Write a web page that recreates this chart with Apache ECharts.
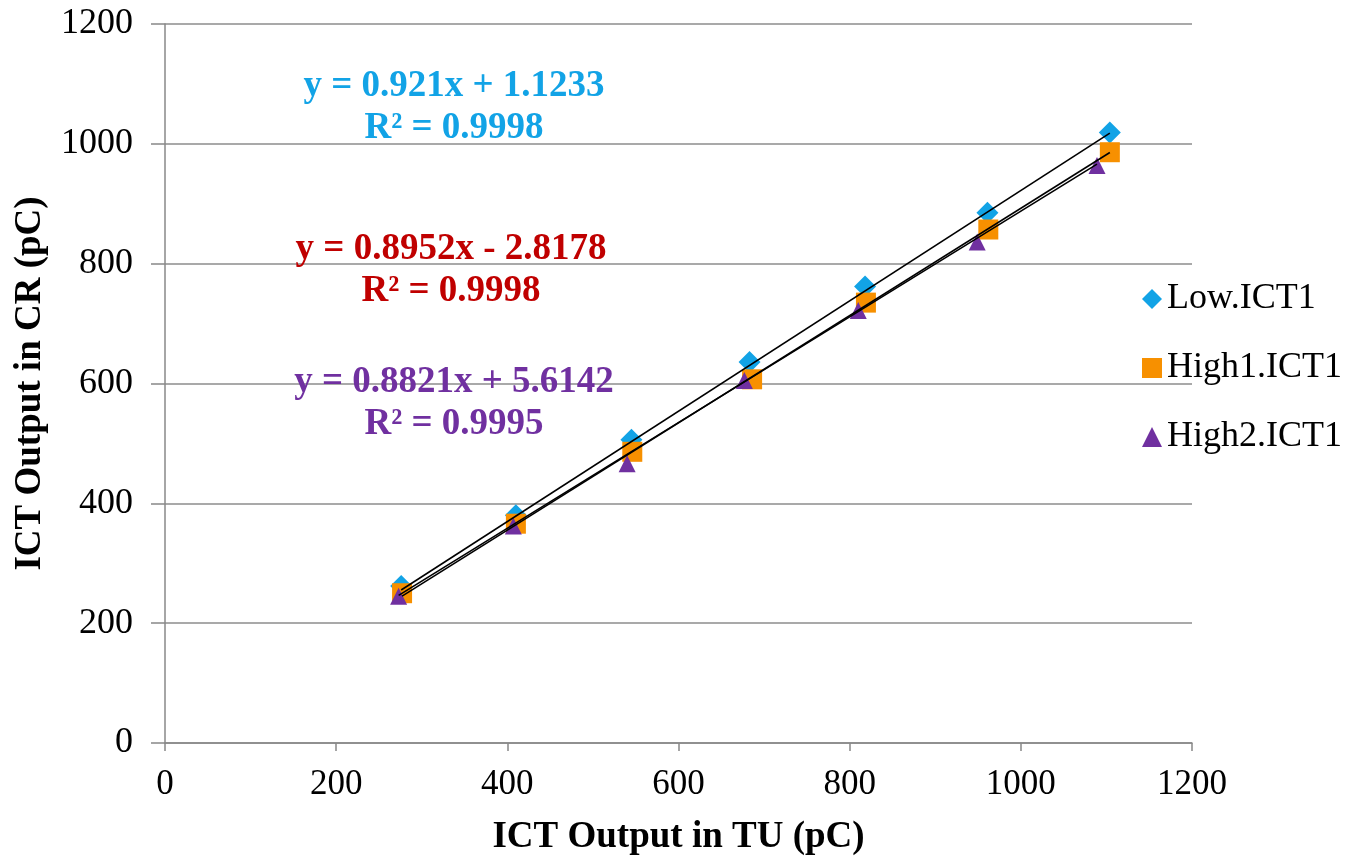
<!DOCTYPE html>
<html>
<head>
<meta charset="utf-8">
<script src="https://cdn.jsdelivr.net/npm/echarts@6/dist/echarts.min.js"></script>
<style>html,body{margin:0;padding:0;background:#fff}#c{width:1350px;height:858px}</style>
</head>
<body>
<div id="c"></div>
<script>
const seriesNames = ['Low.ICT1', 'High1.ICT1', 'High2.ICT1'];
const lowX = [276, 410, 545, 683, 818, 961, 1104];
const lowY = [262, 380, 506, 636, 762, 885, 1019];
const high1X = [277, 410, 546, 686, 819, 962, 1104];
const high1Y = [250, 366, 486, 607, 735, 857, 986];
const high2X = [273, 407, 540, 677, 810, 949, 1089];
const high2Y = [245, 362, 466, 605, 722, 836, 964];
const slopes = [0.921, 0.8952, 0.8821];
const intercepts = [1.1233, -2.8178, 5.6142];
const eqLabels = ['y = 0.921x + 1.1233', 'y = 0.8952x - 2.8178', 'y = 0.8821x + 5.6142'];
const r2Labels = ['R² = 0.9998', 'R² = 0.9998', 'R² = 0.9995'];
const colors = ['#12a3e6', '#f79000', '#7030a0'];
const eqColors = ['#12a3e6', '#c00000', '#7030a0'];
const symbols = ['diamond', 'rect', 'triangle'];
const symSizes = [22, 20, 17];

const xs = [lowX, high1X, high2X];
const ys = [lowY, high1Y, high2Y];
const font = '"Liberation Serif", "Times New Roman", serif';

const series = [];
for (let i = 0; i < 3; i++) {
  series.push({
    name: seriesNames[i], type: 'scatter', symbol: symbols[i], symbolSize: symSizes[i],
    itemStyle: { color: colors[i], opacity: 1 }, z: 2 + i,
    data: xs[i].map((x, k) => [x, ys[i][k]])
  });
}
for (let i = 0; i < 3; i++) {
  const x0 = Math.min(...xs[i]), x1 = Math.max(...xs[i]);
  series.push({
    name: 'trend' + i, type: 'line', showSymbol: false, silent: true, z: 10,
    lineStyle: { color: '#000', width: 1.6 },
    data: [[x0, slopes[i] * x0 + intercepts[i]], [x1, slopes[i] * x1 + intercepts[i]]]
  });
}

const eqPos = [[454, 86], [451, 249], [454, 382]];
const graphics = [];
for (let i = 0; i < 3; i++) {
  graphics.push({ type: 'text', x: eqPos[i][0], y: eqPos[i][1], z: 20,
    style: { text: eqLabels[i], fill: eqColors[i], font: 'bold 37px ' + font, textAlign: 'center', textVerticalAlign: 'middle' } });
  graphics.push({ type: 'text', x: eqPos[i][0], y: eqPos[i][1] + 42, z: 20,
    style: { text: r2Labels[i], fill: eqColors[i], font: 'bold 37px ' + font, textAlign: 'center', textVerticalAlign: 'middle' } });
}

const chart = echarts.init(document.getElementById('c'));
chart.setOption({
  animation: false,
  backgroundColor: '#fff',
  grid: { left: 165, right: 158, top: 24, bottom: 115, containLabel: false, outerBoundsMode: 'none' },
  xAxis: {
    type: 'value', min: 0, max: 1200, interval: 200,
    name: 'ICT Output in TU (pC)', nameLocation: 'middle', nameGap: 76,
    nameTextStyle: { fontFamily: font, fontSize: 37, fontWeight: 'bold', color: '#000' },
    axisLine: { show: true, lineStyle: { color: '#888', width: 1.5 } },
    axisTick: { show: true, length: 8, lineStyle: { color: '#888', width: 1.5 } },
    axisLabel: { fontFamily: font, fontSize: 35, color: '#000', margin: 24, formatter: v => String(v) },
    splitLine: { show: false }
  },
  yAxis: {
    type: 'value', min: 0, max: 1200, interval: 200,
    name: 'ICT Output in CR (pC)', nameLocation: 'middle', nameGap: 116,
    nameTextStyle: { fontFamily: font, fontSize: 37, fontWeight: 'bold', color: '#000' },
    axisLine: { show: true, lineStyle: { color: '#888', width: 1.5 } },
    axisTick: { show: true, length: 14, lineStyle: { color: '#888', width: 1.5 } },
    axisLabel: { fontFamily: font, fontSize: 36, color: '#000', margin: 32, formatter: v => String(v) },
    splitLine: { show: true, lineStyle: { color: '#8c8c8c', width: 1.5 } }
  },
  legend: {
    data: seriesNames.map((n, i) => ({ name: n, icon: symbols[i] })),
    orient: 'vertical', left: 1137, top: 276, itemGap: 33, itemWidth: 20, itemHeight: 20,
    textStyle: { fontFamily: font, fontSize: 36, color: '#000', padding: [0, 0, 0, 0] }
  },
  graphic: graphics,
  series: series
});
</script>
</body>
</html>
